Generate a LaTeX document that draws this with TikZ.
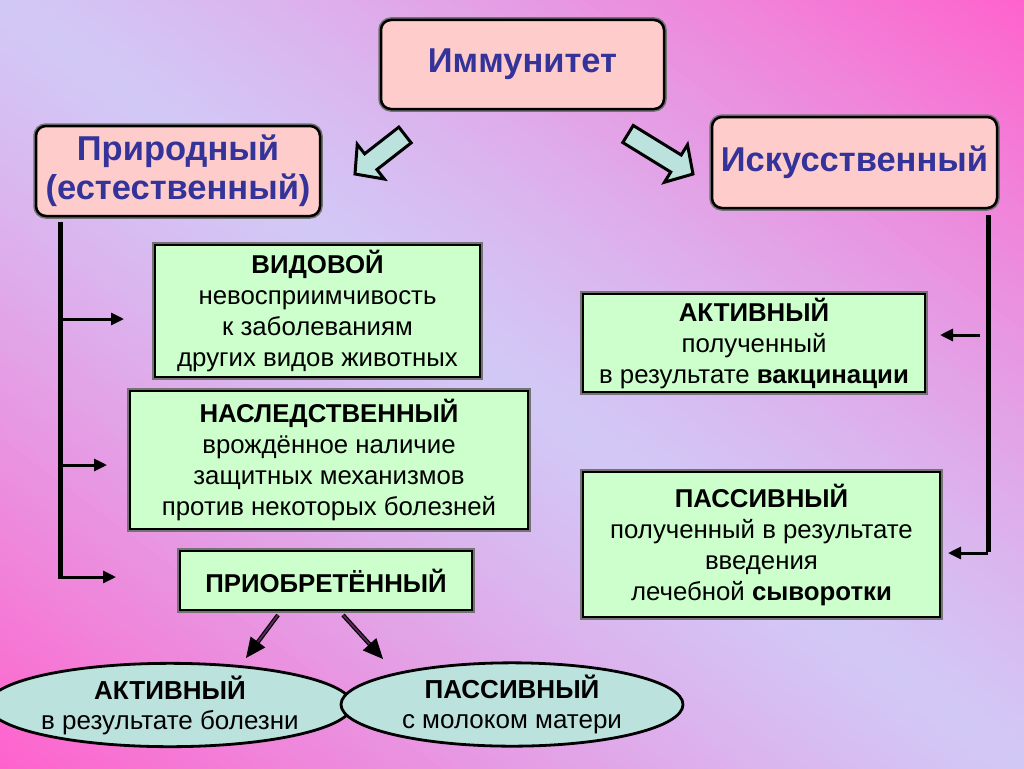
\documentclass[tikz,border=0pt]{standalone}
\usepackage{fontspec}
\setmainfont{Liberation Sans}
\usetikzlibrary{arrows.meta,shapes.geometric,calc}
\definecolor{bgpink}{HTML}{FF62CC}
\definecolor{bglav}{HTML}{D2C8F6}
\definecolor{greenfill}{HTML}{CCFFCC}
\definecolor{pinkfill}{HTML}{FFCCCC}
\definecolor{cyanfill}{HTML}{BCE2DE}
\definecolor{titleblue}{HTML}{333399}
\definecolor{shaftfill}{HTML}{5A2A5A}
\begin{document}
\begin{tikzpicture}[x=1pt,y=-1pt,
  box/.style={draw=black, line width=2.5pt, fill=greenfill,
    preaction={draw=black!55, line width=5.5pt}, inner sep=0pt,
    align=center, font=\fontsize{25.8}{31}\selectfont},
  pinkbox/.style={box, fill=pinkfill, rounded corners=10pt, text=titleblue,
    font=\fontsize{34.5}{39}\selectfont\bfseries},
  oval/.style={ellipse, draw=black, line width=2.8pt, fill=cyanfill,
    inner sep=0pt, align=center, font=\fontsize{26}{30}\selectfont},
  bar/.style={line width=5pt},
  harrow/.style={line width=3pt, -{Triangle[length=13pt,width=12pt]}},
  darrow/.style={draw=black, line width=1.2pt, double=shaftfill, double distance=1.8pt,
    -{Triangle[length=20pt,width=18pt]}},
  block/.style={draw=black, line width=3pt, fill=cyanfill, line join=miter}]
\useasboundingbox (0,0) rectangle (1024,768);
\begin{scope}
  \clip (0,0) rectangle (1024,768);
  \begin{scope}[shift={(512,384)}, rotate=-36.87]
    \foreach \i in {-64,...,63} {
      \pgfmathsetmacro\p{min(100,100*(abs(\i+0.5)/61.5)^1.2)}
      \fill[bgpink!\p!bglav] (-720,\i*10) rectangle (720,\i*10+10.6);
    }
  \end{scope}
\end{scope}

% top nodes
\node[pinkbox, minimum width=283pt, minimum height=89pt] (imm) at (522.5,64.5) {Иммунитет};
\node[pinkbox, minimum width=284pt, minimum height=90pt] (nat) at (178,171) {Природный\\(естественный)};
\node[pinkbox, minimum width=285pt, minimum height=91pt] (art) at (854.5,162.5) {Искусственный};

% hollow block arrows
\coordinate (lt) at (405,135); \coordinate (lp) at (355,174);
\coordinate (rt) at (628,134); \coordinate (rp) at (693,174);
\foreach \t/\p in {lt/lp, rt/rp}{
  \coordinate (H) at ($(\p)!20pt!(\t)$);
  \draw[block] ($(\t)!10pt!90:(\p)$) -- ($(H)!10pt!90:(\p)$) -- ($(H)!22pt!90:(\p)$)
    -- (\p) -- ($(H)!22pt!-90:(\p)$) -- ($(H)!10pt!-90:(\p)$) -- ($(\t)!10pt!-90:(\p)$) -- cycle;
}

% left branch boxes
\node[box, minimum width=325pt, minimum height=132pt] (vid) at (317.5,311)
  {\textbf{ВИДОВОЙ}\\невосприимчивость\\к заболеваниям\\других видов животных};
\node[box, minimum width=398pt, minimum height=138pt] (nasl) at (329,460)
  {\textbf{НАСЛЕДСТВЕННЫЙ}\\врождённое наличие\\защитных механизмов\\против некоторых болезней};
\node[box, minimum width=292pt, minimum height=59pt] (prio) at (326,580.5)
  {\textbf{ПРИОБРЕТЁННЫЙ}};

% right branch boxes
\node[box, minimum width=342pt, minimum height=98pt] (act) at (754,343)
  {\textbf{АКТИВНЫЙ}\\полученный\\в результате \textbf{вакцинации}};
\node[box, minimum width=357pt, minimum height=145pt] (pas) at (761.5,544.5)
  {\textbf{ПАССИВНЫЙ}\\полученный в результате\\введения\\лечебной \textbf{сыворотки}};

% ellipses
\node[oval, minimum width=336pt, minimum height=72pt] (e1) at (170,705)
  {\textbf{АКТИВНЫЙ}\\в результате болезни};
\node[oval, minimum width=342pt, minimum height=75pt] (e2) at (512,704.5)
  {\textbf{ПАССИВНЫЙ}\\с молоком матери};

% left tree
\coordinate (L0) at (60,222); \coordinate (L3) at (60,577);
\draw[bar] (L0) -- ([yshift=-1.5pt]L3);
\coordinate (a1) at (124,319); \coordinate (a2) at (107,465); \coordinate (a3) at (116,577);
\draw[harrow] (L0 |- a1) -- (a1);
\draw[harrow] (L0 |- a2) -- (a2);
\draw[harrow] (L3) -- (a3);

% right tree
\coordinate (R0) at (988,215); \coordinate (R1) at (988,553);
\draw[bar] (R0) -- ([yshift=1.5pt]R1);
\coordinate (b2) at (948,553);
\draw[harrow] (R1) -- (b2);
\coordinate (b1s) at (980,335); \coordinate (b1) at (940,335);
\draw[harrow] (b1s) -- (b1);

% arrows to ellipses
\coordinate (p1) at (278,615); \coordinate (q1) at (246,658);
\coordinate (p2) at (343,615); \coordinate (q2) at (383,659);
\draw[darrow] (p1) -- (q1);
\draw[darrow] (p2) -- (q2);
\end{tikzpicture}
\end{document}
